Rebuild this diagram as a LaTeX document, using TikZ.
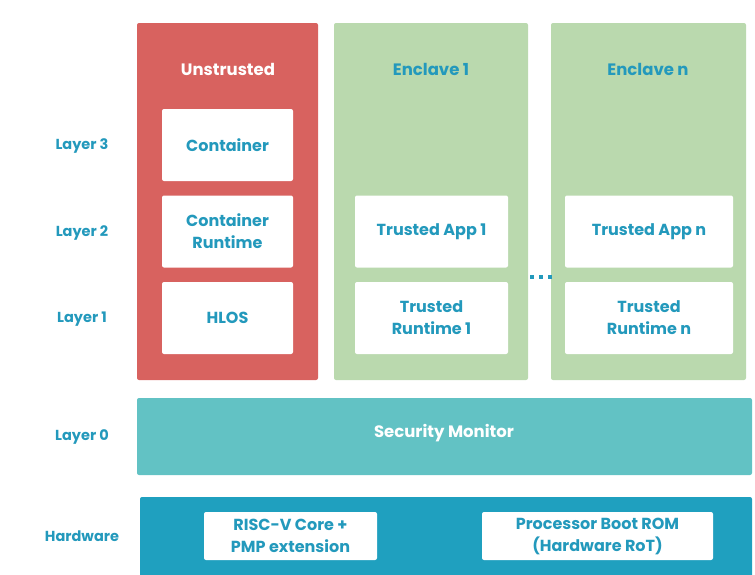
\documentclass[tikz,border=0pt]{standalone}
\usepackage{fontspec}
\setmainfont{Poppins}
\usepackage{tikz}

\definecolor{untrust}{HTML}{D8625F}
\definecolor{enclave}{HTML}{BAD9AE}
\definecolor{secmon}{HTML}{62C2C4}
\definecolor{hwblue}{HTML}{1FA0BF}
\definecolor{txtblue}{HTML}{2399BC}

\begin{document}
\begin{tikzpicture}[x=1pt,y=-1pt,
  col/.style={rounded corners=2pt, inner sep=0pt, draw=none},
  inbox/.style={fill=white, rounded corners=2pt, inner sep=0pt, align=center,
    text=txtblue, font=\bfseries\fontsize{16}{22}\selectfont},
  title/.style={font=\bfseries\fontsize{16.5}{22}\selectfont},
  layer/.style={text=txtblue, font=\bfseries\fontsize{14.5}{18}\selectfont}]
\useasboundingbox (0,0) rectangle (755,574);
% columns
\node[col, fill=untrust, minimum width=181pt, minimum height=357pt] (untr) at (227.5,201.5) {};
\node[col, fill=enclave, minimum width=194pt, minimum height=357pt] (encA) at (431,201.5) {};
\node[col, fill=enclave, minimum width=195pt, minimum height=357pt] (encN) at (648.5,201.5) {};
\node[title, text=white] (untrt) at (228,69) {Unstrusted};
\node[title, text=txtblue] (encAt) at (431,69) {Enclave 1};
\node[title, text=txtblue] (encNt) at (648,69) {Enclave n};
% boxes in the columns
\node[inbox, minimum width=131pt, minimum height=72pt] (cont) at (227.5,145) {Container};
\node[inbox, minimum width=131pt, minimum height=72pt] (crt) at (227.5,231.5) {Container\\Runtime};
\node[inbox, minimum width=131pt, minimum height=72pt] (hlos) at (227.5,318) {HLOS};
\node[inbox, minimum width=153pt, minimum height=72pt] (tapA) at (431.5,231.5) {Trusted App 1};
\node[inbox, minimum width=153pt, minimum height=72pt] (trtA) at (431.5,318) {Trusted\\Runtime 1};
\node[inbox, minimum width=168pt, minimum height=72pt] (tapN) at (649,231.5) {Trusted App n};
\node[inbox, minimum width=168pt, minimum height=72pt] (trtN) at (649,318) {Trusted\\Runtime n};
\draw[txtblue, line width=4pt, dash pattern=on 4pt off 5pt] (530,277) -- (554,277);
% lower layers
\node[col, fill=secmon, minimum width=615pt, minimum height=77pt] (sm) at (444.5,436.5) {};
\node[title, text=white] (smt) at (444,433) {Security Monitor};
\node[col, fill=hwblue, minimum width=612pt, minimum height=80pt] (hw) at (446,537) {};
\node[inbox, minimum width=173pt, minimum height=48pt] (core) at (290.5,536) {RISC-V Core +\\PMP extension};
\node[inbox, minimum width=231pt, minimum height=48pt] (rom) at (597.5,536) {Processor Boot ROM\\(Hardware RoT)};
% layer labels
\node[layer] (l3) at (82,146) {Layer 3};
\node[layer] (l2) at (82,233) {Layer 2};
\node[layer] (l1) at (82,319) {Layer 1};
\node[layer] (l0) at (82,437) {Layer 0};
\node[layer] (lhw) at (82,536) {Hardware};
\end{tikzpicture}
\end{document}
